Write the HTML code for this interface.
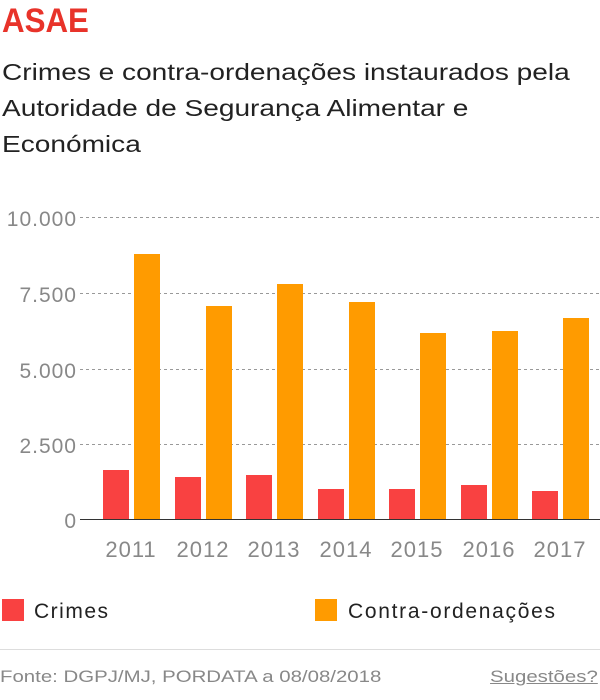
<!DOCTYPE html>
<html><head><meta charset="utf-8"><style>
body{margin:0;width:600px;height:700px;background:#fff;font-family:"Liberation Sans",sans-serif;overflow:hidden;position:relative}
.t{position:absolute;left:2px;top:2px;font-size:34px;font-weight:bold;color:#e8332a;transform:scaleX(0.92);transform-origin:left}
.s{position:absolute;left:2px;font-size:23px;color:#222;white-space:nowrap;transform:scaleX(1.22);transform-origin:left}
.f{position:absolute;left:0;top:667px;font-size:17px;color:#888;transform:scaleX(1.2);transform-origin:left;white-space:nowrap}
.g{position:absolute;right:2px;top:667px;font-size:17px;color:#888;text-decoration:underline;transform:scaleX(1.2);transform-origin:right}
</style></head><body>
<div class="t">ASAE</div>
<div class="s" style="top:59px">Crimes e contra-ordenações instaurados pela</div>
<div class="s" style="top:95px">Autoridade de Segurança Alimentar e</div>
<div class="s" style="top:131px">Económica</div>
<svg width="600" height="700" style="position:absolute;left:0;top:0">
<g stroke="#999" stroke-dasharray="3,3" stroke-width="1">
<line x1="80" y1="217.5" x2="600" y2="217.5"/><line x1="80" y1="293.5" x2="600" y2="293.5"/>
<line x1="80" y1="369.5" x2="600" y2="369.5"/><line x1="80" y1="444.5" x2="600" y2="444.5"/>
</g>
<line x1="80" y1="519.5" x2="600" y2="519.5" stroke="#333" stroke-width="1"/>
<g font-size="21" fill="#888" text-anchor="end" letter-spacing="1">
<text x="77" y="226">10.000</text><text x="77" y="302">7.500</text><text x="77" y="378">5.000</text><text x="77" y="453">2.500</text><text x="77" y="528">0</text>
</g>
<g fill="#f94141">
<rect x="103" y="470" width="26" height="49"/><rect x="175" y="477" width="26" height="42"/><rect x="246" y="475" width="26" height="44"/><rect x="318" y="489" width="26" height="30"/><rect x="389" y="489" width="26" height="30"/><rect x="461" y="485" width="26" height="34"/><rect x="532" y="491" width="26" height="28"/>
</g>
<g fill="#ff9b00">
<rect x="134" y="254" width="26" height="265"/><rect x="206" y="306" width="26" height="213"/><rect x="277" y="284" width="26" height="235"/><rect x="349" y="302" width="26" height="217"/><rect x="420" y="333" width="26" height="186"/><rect x="492" y="331" width="26" height="188"/><rect x="563" y="318" width="26" height="201"/>
</g>
<g font-size="22" fill="#888" text-anchor="middle" letter-spacing="1">
<text x="131" y="557">2011</text><text x="203" y="557">2012</text><text x="274" y="557">2013</text><text x="346" y="557">2014</text><text x="417" y="557">2015</text><text x="489" y="557">2016</text><text x="560" y="557">2017</text>
</g>
<rect x="2" y="599" width="22" height="22" fill="#f94141"/>
<text x="34" y="618" font-size="21" fill="#222" textLength="74">Crimes</text>
<rect x="315" y="599" width="22" height="22" fill="#ff9b00"/>
<text x="348" y="618" font-size="21" fill="#222" textLength="207">Contra-ordenações</text>
<line x1="0" y1="649.5" x2="600" y2="649.5" stroke="#ddd"/>
</svg>
<div class="f">Fonte: DGPJ/MJ, PORDATA a 08/08/2018</div>
<div class="g">Sugestões?</div>
</body></html>
